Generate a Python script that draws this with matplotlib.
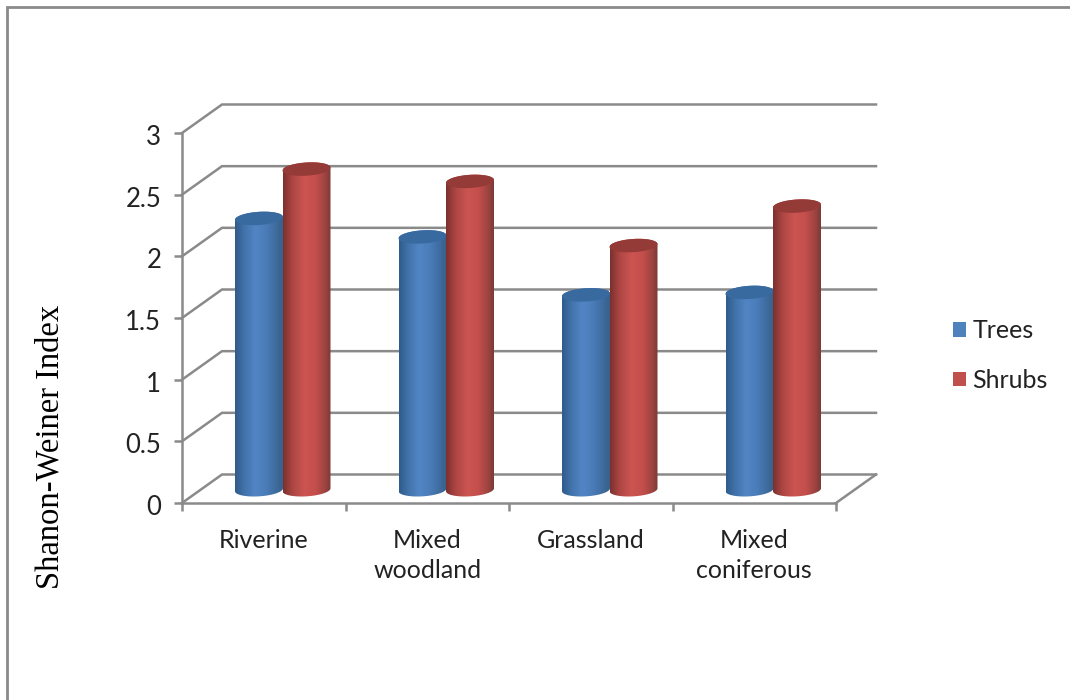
import numpy as np
from matplotlib import pyplot as plt
from matplotlib.colors import LinearSegmentedColormap
from matplotlib.patches import Patch, Polygon, Rectangle
from matplotlib.transforms import ScaledTranslation

plt.rcParams['font.family'] = ['Lato', 'DejaVu Sans']

categories = ['Riverine', 'Mixed\nwoodland', 'Grassland', 'Mixed\nconiferous']
trees = [2.2, 2.05, 1.58, 1.6]
shrubs = [2.6, 2.5, 1.98, 2.3]
y_ticks = [0, 0.5, 1, 1.5, 2, 2.5, 3]
y_tick_labels = ['0', '0.5', '1', '1.5', '2', '2.5', '3']

GREY = '#8a8a8a'
W, H = 1070, 700
LEFT, RIGHT, TOP, BOTTOM = 182, 836, 133, 503

fig = plt.figure(figsize=(W / 100, H / 100), dpi=100, facecolor='white')
ax = fig.add_axes([LEFT / W, 1 - BOTTOM / H, (RIGHT - LEFT) / W, (BOTTOM - TOP) / H])
ax.set_xlim(0, len(categories))
ax.set_ylim(0, 3)
ax.patch.set_visible(False)

# size of one pixel in data units, for the fake 3D depth and the cylinder caps
px_x = len(categories) / (RIGHT - LEFT)
px_y = 3 / (BOTTOM - TOP)
depth_x = 40 * px_x
depth_y = 28.5 * px_y

# outer frame, only the top and left edges show
fig.add_artist(Rectangle((7 / W, -0.1), 1.2, 1.1 - 6.5 / H, transform=fig.transFigure,
                         fill=False, edgecolor=GREY, linewidth=2))

# side wall and back wall gridlines
wall_right = len(categories) + depth_x
for v in y_ticks:
    ax.plot([0, depth_x, wall_right], [v, v + depth_y, v + depth_y],
            color=GREY, lw=1.8, clip_on=False, zorder=1, solid_joinstyle='miter')

# floor edge on the right
ax.plot([len(categories), wall_right], [0, depth_y], color=GREY, lw=1.8, clip_on=False, zorder=1)

blue_map = LinearSegmentedColormap.from_list(
    'blue', [(0, '#2f5b89'), (0.2, '#4273ab'), (0.42, '#5285c4'), (0.65, '#4a7cb8'), (0.85, '#3f6c9f'), (1, '#37608a')])
red_map = LinearSegmentedColormap.from_list(
    'red', [(0, '#7a302e'), (0.2, '#ad4643'), (0.45, '#cc5451'), (0.68, '#c44f4c'), (0.87, '#a04441'), (1, '#7c3a38')])


def ring(cx, cy, t):
    a, b, tilt = 24.0, 6.6, 0.06
    x = cx + a * np.cos(t) * px_x
    y = cy + (b * np.sin(t) + tilt * a * np.cos(t)) * px_y
    return np.column_stack([x, y])


def cylinder(cx, value, cmap, cap_color, z):
    base = depth_y / 2 - px_y
    top = base + value
    low = ring(cx, base, np.linspace(np.pi, 2 * np.pi, 60))
    high = ring(cx, top, np.linspace(0, np.pi, 60))
    body = Polygon(np.vstack([low, high]), closed=True, facecolor='none', edgecolor='none', zorder=z)
    ax.add_patch(body)
    half = 24.0 * px_x
    img = ax.imshow(np.linspace(0, 1, 256).reshape(1, -1), cmap=cmap, aspect='auto',
                    extent=[cx - half, cx + half, 0, top + 0.1], zorder=z, interpolation='bilinear')
    img.set_clip_path(body)
    cap = Polygon(ring(cx, top, np.linspace(0, 2 * np.pi, 120)), closed=True,
                  facecolor=cap_color, edgecolor='none', zorder=z + 0.1)
    ax.add_patch(cap)


bar_width = 47.5 * px_x
for i in range(len(categories)):
    center = i + 0.5 + depth_x / 2 - 1 * px_x
    cylinder(center - bar_width / 2, trees[i], blue_map, '#386a9f', 3)
    cylinder(center + bar_width / 2, shrubs[i], red_map, '#943a37', 4)

ax.set_xlim(0, len(categories))
ax.set_ylim(0, 3)

# axes
for side in ['top', 'right']:
    ax.spines[side].set_visible(False)
for side in ['left', 'bottom']:
    ax.spines[side].set_color(GREY)
    ax.spines[side].set_linewidth(1.8)
    ax.spines[side].set_zorder(2)

ax.set_yticks(y_ticks)
ax.set_yticklabels(y_tick_labels)
ax.set_xticks(range(len(categories) + 1))
ax.set_xticklabels([])
ax.set_xticks(np.arange(len(categories)) + 0.5, minor=True)
ax.set_xticklabels(categories, minor=True)
ax.tick_params(axis='y', length=6, width=1.8, color=GREY, labelsize=18.5, pad=9, labelcolor='#222222')
ax.tick_params(axis='x', which='major', length=6, width=1.8, color=GREY)
ax.tick_params(axis='x', which='minor', length=0, labelsize=18, pad=19, labelcolor='#222222')
for label in ax.get_xticklabels(minor=True):
    label.set_linespacing(1.35)

# y labels sit a touch below their ticks
nudge = ScaledTranslation(0, -2 / 100, fig.dpi_scale_trans)
for label in ax.get_yticklabels():
    label.set_transform(label.get_transform() + nudge)

fig.text(50 / W, 1 - 447 / H, 'Shanon-Weiner Index', rotation=90, ha='center', va='center',
         family='Liberation Serif', fontsize=23.5, color='black')

handles = [Patch(facecolor='#4f81bd', edgecolor='none', label='Trees'),
           Patch(facecolor='#c0504d', edgecolor='none', label='Shrubs')]
fig.legend(handles=handles, loc='center left', bbox_to_anchor=(953 / W, 1 - 355.5 / H), frameon=False,
           fontsize=18, handlelength=0.52, handleheight=0.52, handletextpad=0.25, labelspacing=1.07,
           labelcolor='#222222', borderpad=0, borderaxespad=0)

fig.savefig('out.png', dpi=100)
